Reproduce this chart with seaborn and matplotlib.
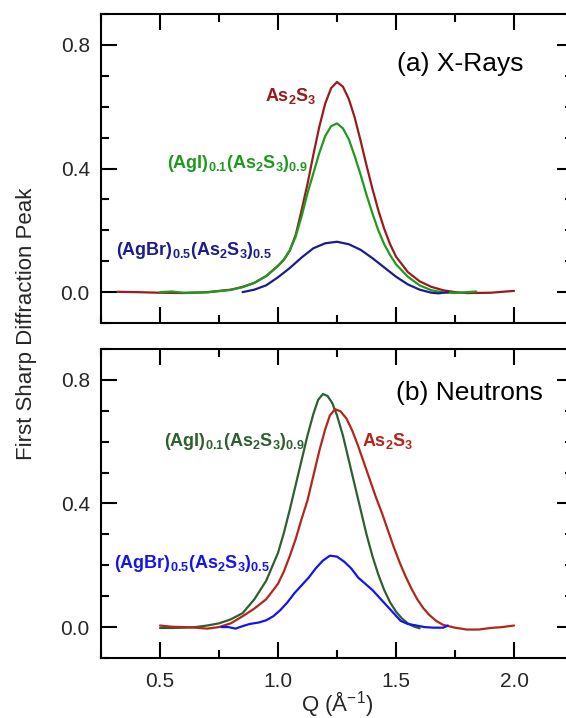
import numpy as np
import pandas as pd
import seaborn as sns
import matplotlib.pyplot as plt
from matplotlib.ticker import MultipleLocator, FormatStrFormatter

# (a) X-ray first sharp diffraction peak
q_xray_as2s3 = [0.32, 0.40, 0.50, 0.60, 0.70, 0.80, 0.85, 0.90, 0.95, 1.000, 1.025, 1.050, 1.075, 1.100,
                1.125, 1.150, 1.175, 1.200, 1.225, 1.250, 1.275, 1.300, 1.325, 1.350, 1.375, 1.400, 1.425,
                1.450, 1.475, 1.500, 1.55, 1.60, 1.65, 1.70, 1.75, 1.80, 1.90, 2.00]
fsdp_xray_as2s3 = [0.001, 0.000, -0.002, -0.003, 0.000, 0.008, 0.017, 0.030, 0.052, 0.085, 0.105, 0.135, 0.185, 0.265,
                   0.350, 0.445, 0.535, 0.610, 0.660, 0.680, 0.665, 0.625, 0.565, 0.490, 0.410, 0.335, 0.265,
                   0.205, 0.155, 0.115, 0.065, 0.035, 0.017, 0.006, 0.000, -0.003, -0.002, 0.004]

q_xray_agi = [0.50, 0.55, 0.60, 0.70, 0.80, 0.85, 0.90, 0.95, 1.000, 1.025, 1.050, 1.075, 1.100, 1.125,
              1.150, 1.175, 1.200, 1.225, 1.250, 1.275, 1.300, 1.325, 1.350, 1.375, 1.400, 1.425, 1.450,
              1.475, 1.500, 1.55, 1.60, 1.65, 1.70, 1.75, 1.80, 1.84]
fsdp_xray_agi = [0.000, 0.002, -0.002, -0.001, 0.007, 0.016, 0.030, 0.052, 0.085, 0.105, 0.135, 0.180, 0.245, 0.320,
                 0.385, 0.450, 0.505, 0.537, 0.546, 0.530, 0.495, 0.440, 0.380, 0.315, 0.255, 0.200, 0.155,
                 0.120, 0.090, 0.050, 0.022, 0.006, -0.001, -0.003, 0.000, 0.002]

q_xray_agbr = [0.85, 0.90, 0.95, 1.00, 1.05, 1.10, 1.15, 1.20, 1.25, 1.30, 1.35, 1.40, 1.45, 1.50,
               1.55, 1.60, 1.65, 1.68, 1.72]
fsdp_xray_agbr = [0.000, 0.008, 0.022, 0.048, 0.078, 0.112, 0.142, 0.158, 0.163, 0.155, 0.137, 0.110, 0.080, 0.050,
                  0.025, 0.008, -0.002, -0.004, 0.000]

# (b) neutron first sharp diffraction peak
q_neut_agi = [0.50, 0.55, 0.60, 0.65, 0.70, 0.75, 0.80, 0.85, 0.90, 0.95, 1.000, 1.025, 1.050, 1.075,
              1.100, 1.125, 1.150, 1.170, 1.190, 1.210, 1.230, 1.250, 1.275, 1.300, 1.325, 1.350, 1.375,
              1.400, 1.425, 1.450, 1.475, 1.500, 1.525, 1.550, 1.575, 1.600]
fsdp_neut_agi = [-0.003, -0.003, -0.002, 0.000, 0.005, 0.012, 0.025, 0.045, 0.090, 0.150, 0.240, 0.305, 0.380, 0.460,
                 0.540, 0.620, 0.690, 0.735, 0.754, 0.748, 0.725, 0.685, 0.620, 0.540, 0.460, 0.380, 0.300,
                 0.230, 0.170, 0.120, 0.080, 0.050, 0.028, 0.012, 0.002, -0.004]

q_neut_as2s3 = [0.50, 0.55, 0.60, 0.65, 0.70, 0.75, 0.80, 0.85, 0.90, 0.95, 1.000, 1.025, 1.050, 1.075, 1.100,
                1.125, 1.150, 1.175, 1.200, 1.220, 1.242, 1.265, 1.290, 1.315, 1.340, 1.365, 1.390, 1.415,
                1.440, 1.465, 1.490, 1.515, 1.540, 1.565, 1.590, 1.615, 1.640, 1.670, 1.700, 1.75, 1.80,
                1.85, 1.90, 1.95, 2.00]
fsdp_neut_as2s3 = [0.005, 0.001, 0.000, -0.002, -0.005, 0.000, 0.012, 0.035, 0.060, 0.090, 0.140, 0.180, 0.230, 0.285, 0.350,
                   0.410, 0.490, 0.570, 0.640, 0.685, 0.705, 0.698, 0.675, 0.635, 0.585, 0.530, 0.475, 0.420,
                   0.370, 0.315, 0.260, 0.210, 0.165, 0.125, 0.090, 0.062, 0.040, 0.020, 0.007, -0.002, -0.008,
                   -0.008, -0.003, 0.000, 0.005]

q_neut_agbr = [0.76, 0.79, 0.82, 0.85, 0.88, 0.92, 0.95, 0.98, 1.01, 1.04, 1.07, 1.10, 1.13, 1.16, 1.19, 1.22,
               1.25, 1.28, 1.31, 1.34, 1.37, 1.40, 1.43, 1.46, 1.49, 1.52, 1.55, 1.58, 1.62, 1.66, 1.70, 1.72]
fsdp_neut_agbr = [0.000, 0.000, -0.005, 0.003, 0.010, 0.015, 0.022, 0.035, 0.055, 0.080, 0.110, 0.135, 0.160, 0.190, 0.215, 0.231,
                  0.228, 0.212, 0.190, 0.160, 0.140, 0.120, 0.095, 0.070, 0.045, 0.020, 0.010, 0.006, 0.000, -0.002, -0.002, 0.005]

sns.set_style("ticks")
plt.rcParams["font.family"] = ["Liberation Sans", "DejaVu Sans"]
plt.rcParams["mathtext.fontset"] = "custom"
plt.rcParams["mathtext.rm"] = "Liberation Sans"
plt.rcParams["mathtext.bf"] = "Liberation Sans:bold"
plt.rcParams["mathtext.it"] = "Liberation Sans:italic"

fig = plt.figure(figsize=(5.66, 7.18), dpi=100)
ax_top = fig.add_axes([0.1784, 0.5501, 0.834, 0.4304])
ax_bot = fig.add_axes([0.1784, 0.0836, 0.834, 0.4304])

LW = 1.6

sns.lineplot(x=q_xray_as2s3, y=fsdp_xray_as2s3, ax=ax_top, color="#991b1b", lw=LW)
sns.lineplot(x=q_xray_agi, y=fsdp_xray_agi, ax=ax_top, color="#1f9a1f", lw=LW)
sns.lineplot(x=q_xray_agbr, y=fsdp_xray_agbr, ax=ax_top, color="#1c1c8c", lw=LW)

sns.lineplot(x=q_neut_agi, y=fsdp_neut_agi, ax=ax_bot, color="#2f5f30", lw=LW)
sns.lineplot(x=q_neut_as2s3, y=fsdp_neut_as2s3, ax=ax_bot, color="#b3261c", lw=LW)
sns.lineplot(x=q_neut_agbr, y=fsdp_neut_agbr, ax=ax_bot, color="#1414f0", lw=LW)

for ax in (ax_top, ax_bot):
    ax.set_xlim(0.25, 2.25)
    ax.set_ylim(-0.1, 0.9)
    ax.xaxis.set_major_locator(MultipleLocator(0.5))
    ax.xaxis.set_minor_locator(MultipleLocator(0.25))
    ax.yaxis.set_major_locator(MultipleLocator(0.4))
    ax.yaxis.set_minor_locator(MultipleLocator(0.1))
    ax.xaxis.set_major_formatter(FormatStrFormatter("%.1f"))
    ax.yaxis.set_major_formatter(FormatStrFormatter("%.1f"))
    ax.tick_params(which="both", direction="in", top=True, right=True, width=1.5,
                   labelsize=15, color="black")
    ax.tick_params(axis="x", pad=10)
    ax.tick_params(axis="y", pad=8)
    ax.tick_params(which="major", length=11.5)
    ax.tick_params(which="minor", length=6)
    for s in ax.spines.values():
        s.set_linewidth(1.5)
        s.set_color("black")
    ax.set_xlabel("")
    ax.set_ylabel("")

ax_top.tick_params(labelbottom=False)

lab = dict(fontsize=13)
ax_top.text(0.943, 0.617, r"$\mathbf{As_2S_3}$", color="#991b1b", **lab)
ax_top.text(0.528, 0.403, r"$\mathbf{(AgI)_{0.1}(As_2S_3)_{0.9}}$", color="#1f9a1f", **lab)
ax_top.text(0.312, 0.120, r"$\mathbf{(AgBr)_{0.5}(As_2S_3)_{0.5}}$", color="#1c1c8c", **lab)
ax_top.text(1.505, 0.714, "(a) X-Rays", fontsize=19, color="black")

ax_bot.text(0.515, 0.585, r"$\mathbf{(AgI)_{0.1}(As_2S_3)_{0.9}}$", color="#2f5f30", **lab)
ax_bot.text(1.358, 0.585, r"$\mathbf{As_2S_3}$", color="#b3261c", **lab)
ax_bot.text(0.305, 0.192, r"$\mathbf{(AgBr)_{0.5}(As_2S_3)_{0.5}}$", color="#1414f0", **lab)
ax_bot.text(1.50, 0.735, "(b) Neutrons", fontsize=19, color="black")

ax_bot.set_xlabel(r"Q ($\mathrm{\AA}^{-1}$)", fontsize=16)
ax_bot.xaxis.set_label_coords(0.5, -0.102)
fig.text(0.047, 0.549, "First Sharp Diffraction Peak", rotation=90, fontsize=16,
         ha="center", va="center")

fig.savefig("out.png", dpi=100)
